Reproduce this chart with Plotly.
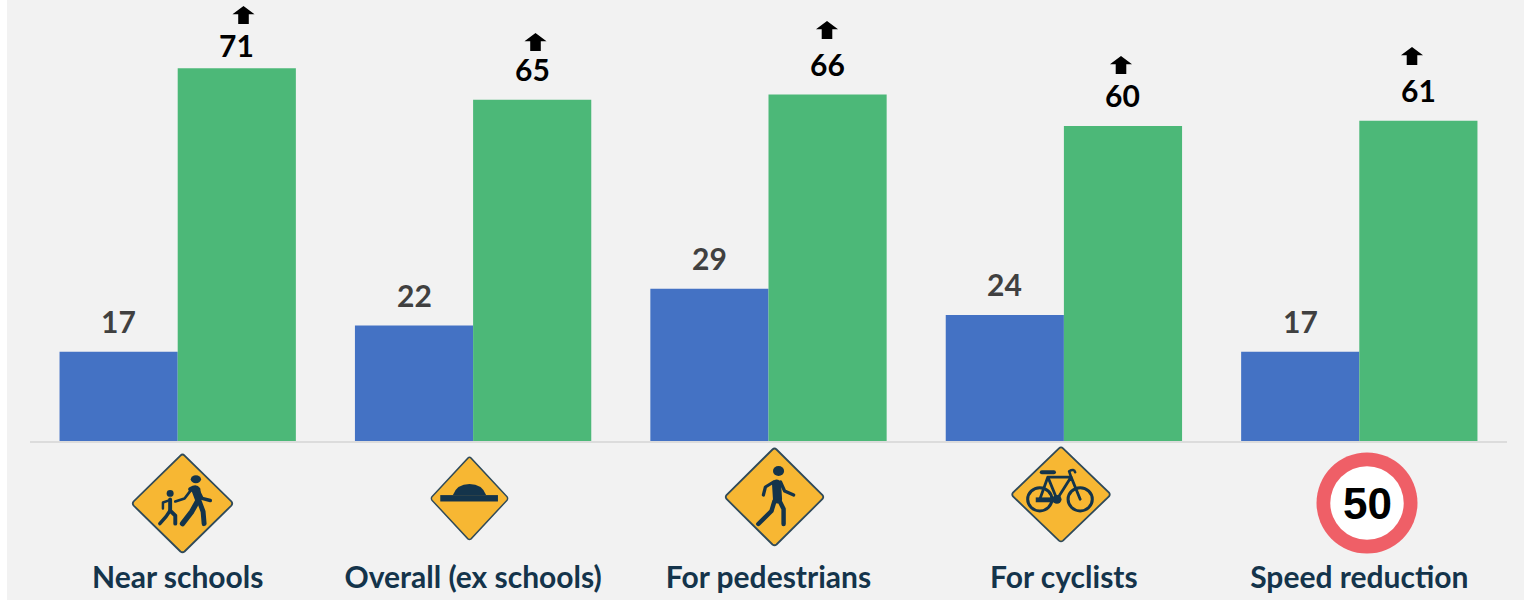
import base64
import plotly.graph_objects as go

categories = ["Near schools", "Overall (ex schools)", "For pedestrians", "For cyclists", "Speed reduction"]
before = [17, 22, 29, 24, 17]
after = [71, 65, 66, 60, 61]

W, H = 1524, 600
ML, MR, MT, MB = 30, 17, 0, 159
PW, PH = W - ML - MR, H - MT - MB
BLUE, GREEN = "#4472C4", "#4CB878"
BG, AMBER, DARK, RED = "#F2F2F2", "#F7B733", "#14344B", "#EF5F67"


def px(x):
    return (x - ML) / PW


def py(y):
    return 1 - (y - MT) / PH


def svg_image(svg_body, cx, cy, w, h, vb):
    svg = (f'<svg xmlns="http://www.w3.org/2000/svg" viewBox="{vb}" width="{w*3}" height="{h*3}" preserveAspectRatio="none">'
           f'{svg_body}</svg>')
    uri = "data:image/svg+xml;base64," + base64.b64encode(svg.encode()).decode()
    return dict(source=uri, xref="paper", yref="paper", x=px(cx), y=py(cy),
                sizex=w / PW, sizey=h / PH, xanchor="center", yanchor="middle",
                sizing="stretch", layer="above")


DIAMOND = (f'<path d="M50 1.5 Q51 1.5 52 2.5 L97.5 48 Q99 50 97.5 52 L52 97.5 Q50 99 48 97.5 L2.5 52 Q1 50 2.5 48 L48 2.5 Q49 1.5 50 1.5Z" '
           f'fill="{AMBER}" stroke="#2F4A5A" stroke-width="1.8"/>')
LIMB = f'fill="none" stroke="{DARK}" stroke-linecap="round" stroke-linejoin="round"'

school_icon = DIAMOND + (
    f'<ellipse cx="63" cy="26" rx="5" ry="4" fill="{DARK}"/>'
    f'<path d="M58 36 Q63 33 65 36 L66 47 L70 58 L71 70" {LIMB} stroke-width="4.8"/>'
    f'<path d="M61 36 L65 47 L59 58 L50 70" {LIMB} stroke-width="5.2"/>'
    f'<path d="M65 37 L69 45 L77 47" {LIMB} stroke-width="3.4"/>'
    f'<path d="M58 37 L52 45 L43 48" {LIMB} stroke-width="2.6"/>'
    f'<circle cx="38" cy="40" r="3.4" fill="{DARK}"/>'
    f'<path d="M38 46 L38 57 L43 62 L43 70" {LIMB} stroke-width="3.8"/>'
    f'<path d="M38 57 L34 63 L28 70" {LIMB} stroke-width="3.4"/>'
    f'<path d="M37 47 L31 49 L31 55" {LIMB} stroke-width="2.4"/>'
)
bump_icon = DIAMOND + (
    f'<rect x="13" y="46" width="73" height="7.5" fill="{DARK}"/>'
    f'<path d="M29 46 Q34 33 50 33 Q66 33 71 46Z" fill="{DARK}"/>'
)
pedestrian_icon = DIAMOND + (
    f'<ellipse cx="54" cy="24" rx="5.5" ry="5" fill="{DARK}"/>'
    f'<path d="M52 37 L53 52" fill="none" stroke="{DARK}" stroke-width="9" stroke-linecap="round"/>'
    f'<path d="M49 35 L41 40 L39 48" {LIMB} stroke-width="3.2"/>'
    f'<path d="M56 35 L60 44 L69 48" {LIMB} stroke-width="3.2"/>'
    f'<path d="M50 54 L47 64 L34 77" {LIMB} stroke-width="4.4"/>'
    f'<path d="M55 54 L59 62 L59 77" {LIMB} stroke-width="4.4"/>'
)
cyclist_icon = DIAMOND + (
    f'<circle cx="29" cy="55" r="12" {LIMB} stroke-width="3"/>'
    f'<circle cx="69" cy="55" r="12" {LIMB} stroke-width="3"/>'
    f'<path d="M29 55 L37 32 M29 55 L46 55 L60 32 L37 32 M37 32 L46 55 M60 32 L69 55" {LIMB} stroke-width="2.8"/>'
    f'<path d="M31 27 L43 27" {LIMB} stroke-width="4"/>'
    f'<path d="M60 32 L58 26 Q63 23 64 27" {LIMB} stroke-width="2.6"/>'
    f'<rect x="25" y="53" width="22" height="5" fill="{DARK}"/>'
    f'<circle cx="46" cy="55" r="4.5" fill="{DARK}"/>'
)
speed_icon = (
    f'<circle cx="50" cy="50" r="49.5" fill="{RED}"/>'
    f'<circle cx="50" cy="50" r="36" fill="#FFFFFF"/>'
)
arrow_icon = '<path d="M50 2 L98 46 L73 46 L73 98 L27 98 L27 46 L2 46Z" fill="#000000"/>'

images = [
    svg_image(school_icon, 182.5, 503.5, 103, 101, "0 0 100 100"),
    svg_image(bump_icon, 469.5, 498.5, 79, 85, "0 0 100 100"),
    svg_image(pedestrian_icon, 774.5, 497, 101, 100, "0 0 100 100"),
    svg_image(cyclist_icon, 1061, 494.5, 101, 97, "0 0 100 100"),
    svg_image(speed_icon, 1367, 503, 102, 102, "0 0 100 100"),
]
for cx, cy in [(243.5, 15), (535.5, 42), (827, 30), (1121, 65), (1412, 56)]:
    images.append(svg_image(arrow_icon, cx, cy, 23, 18.5, "0 0 100 100"))

fig = go.Figure()
fig.add_bar(x=categories, y=before, marker_color=BLUE, marker_line_width=0, name="Before")
fig.add_bar(x=categories, y=after, marker_color=GREEN, marker_line_width=0, name="After")

annotations = []
for i, v in enumerate(before):
    annotations.append(dict(x=i, y=v, xref="x", yref="y", text=f"<b>{v}</b>", showarrow=False,
                            xshift=-59, yshift=31, font=dict(family="Lato", size=30, color="#404040")))
for i, v in enumerate(after):
    annotations.append(dict(x=i, y=v, xref="x", yref="y", text=f"<b>{v}</b>", showarrow=False,
                            xshift=59, yshift=23 if i == 0 else 31, font=dict(family="Lato", size=30, color="#000000")))
annotations.append(dict(x=px(1367), y=py(503), xref="paper", yref="paper", text="<b>50</b>", showarrow=False,
                        xanchor="center", yanchor="middle",
                        font=dict(family="Liberation Sans", size=44, color="#000000")))

fig.update_layout(
    width=W, height=H, autosize=False,
    margin=dict(l=ML, r=MR, t=MT, b=MB, pad=0),
    paper_bgcolor=BG, plot_bgcolor=BG,
    barmode="group", bargap=0.2, bargroupgap=0,
    showlegend=False,
    images=images, annotations=annotations,
    shapes=[dict(type="rect", xref="paper", yref="paper", x0=px(0), x1=px(7), y0=py(0), y1=py(H),
                 fillcolor="#FFFFFF", line_width=0, layer="below")],
    xaxis=dict(type="category", range=[-0.5, 4.5], showline=True, linecolor="#DCDCDC", linewidth=2,
               showgrid=False, ticks="", ticklabelstandoff=109, automargin=False,
               tickfont=dict(family="Lato", size=30, color=DARK, weight=700)),
    yaxis=dict(range=[0, 84], visible=False, showgrid=False, zeroline=False, automargin=False),
)
fig.write_html("out.html", config=dict(displayModeBar=False),
               post_script="document.body.style.margin='0';document.body.style.overflow='hidden';")
